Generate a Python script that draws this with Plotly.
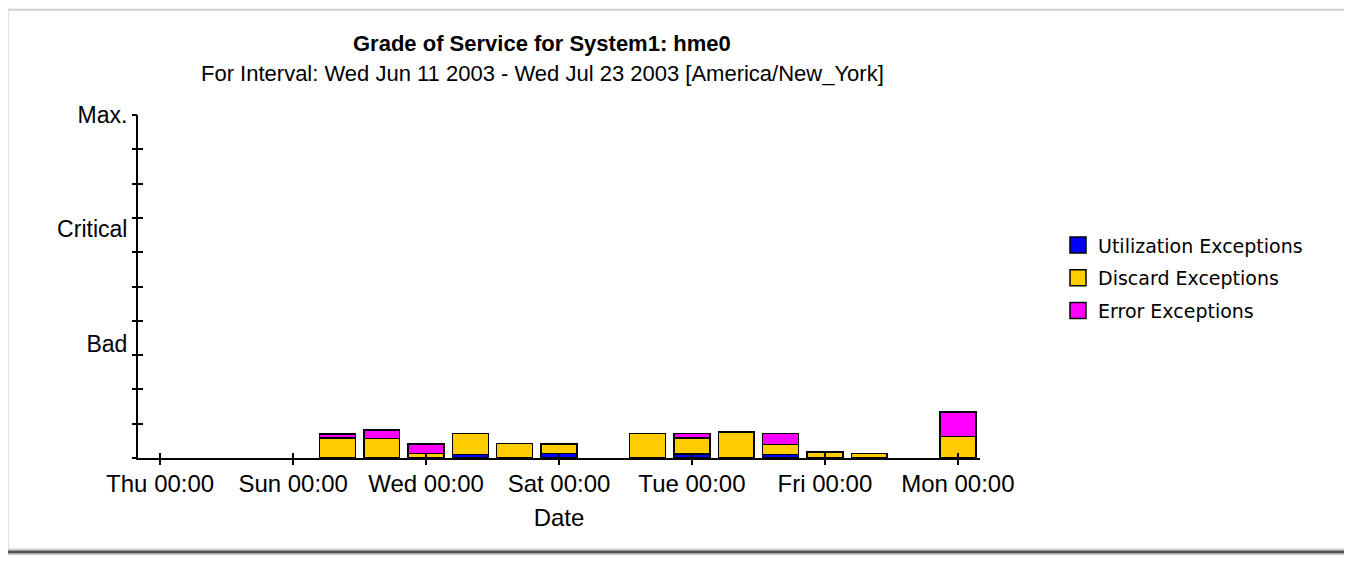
import plotly.graph_objects as go

# ---------------- data ----------------
dates = ["2003-06-16", "2003-06-17", "2003-06-18", "2003-06-19", "2003-06-20",
         "2003-06-21", "2003-06-23", "2003-06-24", "2003-06-25", "2003-06-26",
         "2003-06-27", "2003-06-28", "2003-06-30"]
utilization = [0, 0, 0, 0.10, 0, 0.125, 0, 0.12, 0, 0.10, 0, 0, 0]
discard = [0.58, 0.57, 0.125, 0.61, 0.42, 0.29, 0.71, 0.47, 0.76, 0.29, 0.175, 0.125, 0.63]
error = [0.125, 0.25, 0.29, 0, 0, 0, 0, 0.125, 0, 0.32, 0, 0, 0.71]

series_names = ["Utilization Exceptions", "Discard Exceptions", "Error Exceptions"]
series_colors = ["#0000ff", "#ffcc00", "#ff00ff"]

x_tick_dates = ["2003-06-12", "2003-06-15", "2003-06-18", "2003-06-21",
                "2003-06-24", "2003-06-27", "2003-06-30"]
x_range = ["2003-06-11 12:00", "2003-06-30 12:00"]

y_grade_vals = [10 / 3, 20 / 3, 10]
y_grade_text = ["Bad", "Critical", "Max."]
y_minor_vals = list(range(0, 11))

title = "Grade of Service for System1: hme0"
subtitle = "For Interval: Wed Jun 11 2003 - Wed Jul 23 2003 [America/New_York]"

# ---------------- layout constants ----------------
OFF = 8                      # page body margin
W, H = 1352 - OFF, 572 - OFF
PLOT_L, PLOT_R, PLOT_T, PLOT_B = 138, 980, 114.5, 458.3   # page pixels
ML = PLOT_L - OFF
MT = PLOT_T - OFF
PW = PLOT_R - PLOT_L
PH = PLOT_B - PLOT_T
MR = W - ML - PW
MB = H - MT - PH
BAR_WIDTH_MS = 0.81 * 86400000
FONT = "Liberation Sans, Arial, sans-serif"
LEG_FONT = "DejaVu Sans, Verdana, sans-serif"


def px_x(px):
    return (px - PLOT_L) / PW


def px_y(py):
    return (PLOT_B - py) / PH


fig = go.Figure()
for name, vals, col in zip(series_names, [utilization, discard, error], series_colors):
    fig.add_trace(go.Bar(
        x=dates, y=vals, name=name, width=BAR_WIDTH_MS,
        marker=dict(color=col, line=dict(color="black", width=1.5)),
        showlegend=False, hoverinfo="x+y+name",
    ))
# legend entries (square swatches)
for name, col in zip(series_names, series_colors):
    fig.add_trace(go.Scatter(
        x=[None], y=[None], mode="markers", name=name, legendgroup=name,
        marker=dict(symbol="square", size=16, color=col, line=dict(color="black", width=1.5)),
    ))
# carriers so the overlay tick axes are drawn
fig.add_trace(go.Scatter(x=[None], y=[None], xaxis="x2", yaxis="y", showlegend=False, hoverinfo="skip"))
fig.add_trace(go.Scatter(x=[None], y=[None], xaxis="x", yaxis="y2", showlegend=False, hoverinfo="skip"))
fig.add_trace(go.Scatter(x=[None], y=[None], xaxis="x", yaxis="y3", showlegend=False, hoverinfo="skip"))

axis_common = dict(showgrid=False, zeroline=False)

fig.update_layout(
    width=W, height=H,
    margin=dict(l=ML, r=MR, t=MT, b=MB, pad=0),
    paper_bgcolor="white", plot_bgcolor="white",
    barmode="stack",
    showlegend=True,
    font=dict(family=FONT, size=24, color="black"),
    xaxis=dict(
        type="date", range=x_range, tickvals=x_tick_dates, tickformat="%a %H:%M",
        ticks="outside", ticklen=5, tickwidth=1.5, tickcolor="black",
        showline=True, linewidth=2, linecolor="black",
        ticklabelstandoff=-2,
        tickfont=dict(size=24, family=FONT),
        title=dict(text="Date", font=dict(size=24, family=FONT), standoff=13),
        **axis_common,
    ),
    xaxis2=dict(
        type="date", range=x_range, tickvals=x_tick_dates, overlaying="x", anchor="y",
        side="bottom",
        ticks="inside", ticklen=5, tickwidth=1.5, tickcolor="black",
        showticklabels=False, showline=False, **axis_common,
    ),
    yaxis=dict(
        range=[0, 10], tickvals=y_grade_vals, ticktext=y_grade_text, ticks="",
        showline=True, linewidth=2, linecolor="black",
        ticklabelstandoff=4,
        tickfont=dict(size=23, family=FONT),
        **axis_common,
    ),
    yaxis2=dict(
        range=[0, 10], tickvals=y_minor_vals, overlaying="y", anchor="x", side="left",
        ticks="outside", ticklen=5, tickwidth=1.5, tickcolor="black",
        showticklabels=False, showline=False, **axis_common,
    ),
    yaxis3=dict(
        range=[0, 10], tickvals=y_minor_vals, overlaying="y", anchor="x", side="left",
        ticks="inside", ticklen=5, tickwidth=1.5, tickcolor="black",
        showticklabels=False, showline=False, **axis_common,
    ),
    legend=dict(
        x=px_x(1058), y=px_y(226), xanchor="left", yanchor="top",
        traceorder="grouped", tracegroupgap=5, itemsizing="trace",
        font=dict(family=LEG_FONT, size=19, color="black"),
        bgcolor="rgba(0,0,0,0)",
    ),
    annotations=[
        dict(text="<b>" + title + "</b>", xref="paper", yref="paper",
             x=px_x(542), y=px_y(43), xanchor="center", yanchor="middle",
             showarrow=False, font=dict(size=22, family=FONT)),
        dict(text=subtitle, xref="paper", yref="paper",
             x=px_x(542), y=px_y(73), xanchor="center", yanchor="middle",
             showarrow=False, font=dict(size=22, family=FONT)),
    ],
    shapes=[
        # page frame decoration
        dict(type="line", xref="paper", yref="paper", x0=px_x(OFF), x1=px_x(1352),
             y0=px_y(OFF + 1), y1=px_y(OFF + 1), line=dict(color="#d4d0c8", width=2), layer="below"),
        dict(type="line", xref="paper", yref="paper", x0=px_x(OFF + 0.5), x1=px_x(OFF + 0.5),
             y0=px_y(OFF), y1=px_y(551), line=dict(color="#e0e0e0", width=1), layer="below"),
        dict(type="line", xref="paper", yref="paper", x0=px_x(OFF), x1=px_x(1352),
             y0=px_y(550), y1=px_y(550), line=dict(color="#d4d0c8", width=2), layer="below"),
        dict(type="line", xref="paper", yref="paper", x0=px_x(OFF), x1=px_x(1352),
             y0=px_y(552.5), y1=px_y(552.5), line=dict(color="#505050", width=3), layer="below"),
        dict(type="line", xref="paper", yref="paper", x0=px_x(OFF), x1=px_x(1352),
             y0=px_y(555), y1=px_y(555), line=dict(color="#c8c8c8", width=1), layer="below"),
    ],
)

fig.write_html("out.html")
